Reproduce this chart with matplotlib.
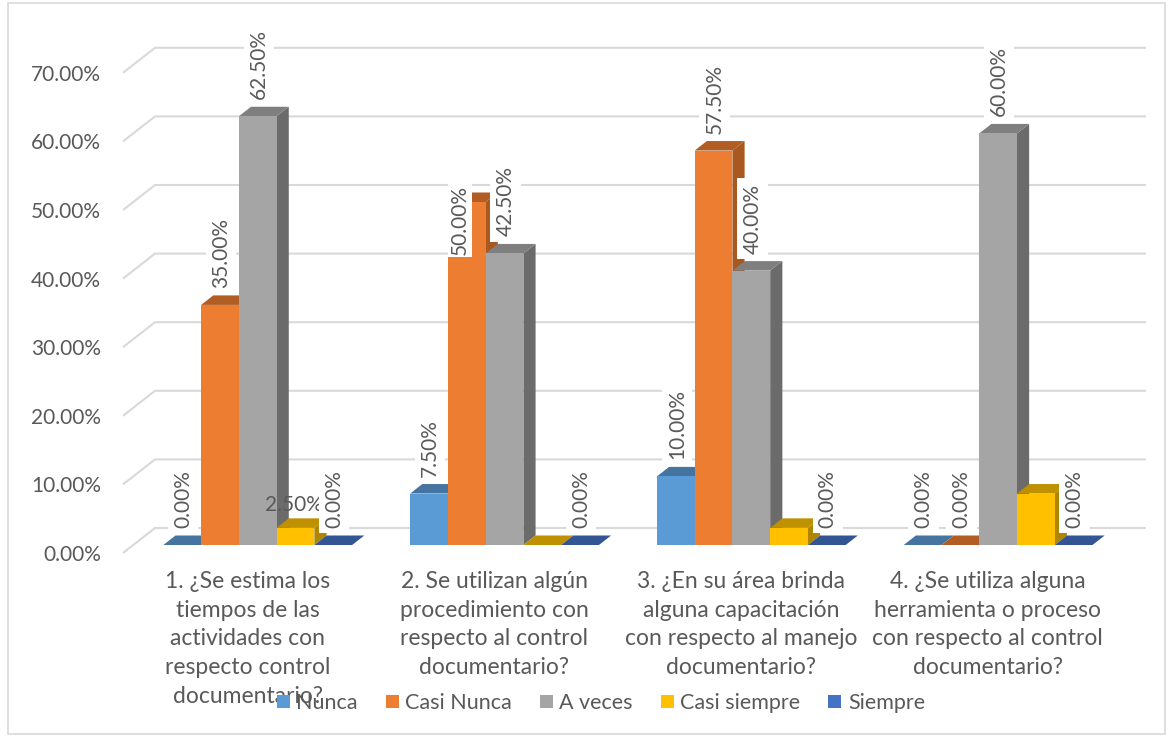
import matplotlib.pyplot as plt
from matplotlib.patches import Polygon, Patch, Rectangle

# data
categories = [
    "1. ¿Se estima los\ntiempos de las\nactividades con\nrespecto control\ndocumentario?",
    "2. Se utilizan algún\nprocedimiento con\nrespecto al control\ndocumentario?",
    "3. ¿En su área brinda\nalguna capacitación\ncon respecto al manejo\ndocumentario?",
    "4. ¿Se utiliza alguna\nherramienta o proceso\ncon respecto al control\ndocumentario?",
]
series = ["Nunca", "Casi Nunca", "A veces", "Casi siempre", "Siempre"]
nunca = [0.0, 7.5, 10.0, 0.0]
casi_nunca = [35.0, 50.0, 57.5, 0.0]
a_veces = [62.5, 42.5, 40.0, 60.0]
casi_siempre = [2.5, 0.0, 2.5, 7.5]
siempre = [0.0, 0.0, 0.0, 0.0]
values = [nunca, casi_nunca, a_veces, casi_siempre, siempre]
yticks = [0, 10, 20, 30, 40, 50, 60, 70]

front = ["#5B9BD5", "#ED7D31", "#A5A5A5", "#FFC000", "#4472C4"]
top = ["#44749F", "#B15D24", "#7F7F7F", "#BF9000", "#335593"]
side = ["#3E6A92", "#A9581F", "#6B6B6B", "#B08500", "#2F4F88"]

FONT = ["Lato", "DejaVu Sans"]
TXT = "#595959"
FS = 15
FS_CAT = 16.5

W, H = 1172, 736
fig = plt.figure(figsize=(W / 100, H / 100), dpi=100)
fig.add_artist(Rectangle((8 / W, 2 / H), 1157 / W, 731 / H, transform=fig.transFigure,
                         fill=False, edgecolor="#d9d9d9", lw=1.2))

ax = fig.add_axes([123 / W, 1 - 553 / H, (1150 - 123) / W, (553 - 44) / H])
x_lo, x_hi = -0.5045, 3.657
ax.set_xlim(x_lo, x_hi)
ax.set_ylim(0, 74.2)
for s in ax.spines.values():
    s.set_visible(False)

# 3d look: depth offset of the back wall, bars sit between zf and zb
DX, DY = 0.1297, 3.646
zf, zb = 0.32, 0.70
bw = 0.153

# gridlines on the back wall
for v in yticks:
    ax.plot([x_lo, x_lo + DX, 3.6406], [v, v + DY, v + DY], color="#d9d9d9", lw=1.5,
            zorder=1, clip_on=False, solid_capstyle="butt")

for i in range(len(categories)):
    for j, vals in enumerate(values):
        v = vals[i]
        x0 = i + (j - 2.5) * bw
        xl, xr = x0 + zf * DX, x0 + bw + zf * DX
        xl2, xr2 = x0 + zb * DX, x0 + bw + zb * DX
        zo = 3 + j
        ax.add_patch(Polygon([(xr, zf * DY), (xr2, zb * DY), (xr2, v + zb * DY), (xr, v + zf * DY)],
                             closed=True, facecolor=side[j], edgecolor="none", zorder=zo))
        ax.add_patch(Polygon([(xl, v + zf * DY), (xr, v + zf * DY), (xr2, v + zb * DY), (xl2, v + zb * DY)],
                             closed=True, facecolor=top[j], edgecolor="none", zorder=zo))
        if v > 0:
            ax.bar(xl, v, width=bw, bottom=zf * DY, align="edge", color=front[j], zorder=zo)

# data labels; Excel hid the "Casi siempre" ones except the first, shown flat
for i in range(len(categories)):
    for j, vals in enumerate(values):
        v = vals[i]
        xc = i + (j - 2) * bw + zf * DX + 0.004
        lab = f"{v:.2f}%"
        if j == 3:
            if i == 0:
                ax.text(xc - 0.012, v + 4.5, lab, ha="center", va="center", fontsize=FS,
                        family=FONT, color=TXT, zorder=9)
            continue
        y = v + 3.65
        pad = 0.25
        if (i, j) == (1, 1):
            xc -= 0.033
            y = 43.5
            pad = 0.1
        ax.text(xc, y, lab, rotation=90, ha="center", va="bottom", fontsize=FS, family=FONT,
                color=TXT, zorder=10,
                bbox=dict(boxstyle=f"square,pad={pad}", facecolor="white", edgecolor="none"))

ax.set_yticks(yticks)
ax.set_yticklabels([f"{t:.2f}%" for t in yticks], family=FONT, fontsize=FS, color=TXT)
ax.set_xticks(range(len(categories)))
ax.set_xticklabels(categories, family=FONT, fontsize=FS_CAT, color=TXT, linespacing=1.45, va="top")
ax.tick_params(axis="y", length=0, pad=16)
ax.tick_params(axis="x", length=0, pad=13)

handles = [Patch(facecolor=c, edgecolor="none") for c in front]
leg = fig.legend(handles, series, loc="center", bbox_to_anchor=(601 / W, 1 - 703 / H), ncol=5,
                 frameon=False, handlelength=0.6, handleheight=0.6, handletextpad=0.3,
                 columnspacing=1.3, prop={"family": FONT, "size": 15.5})
for t in leg.get_texts():
    t.set_color(TXT)

fig.savefig("out.png", dpi=100)
